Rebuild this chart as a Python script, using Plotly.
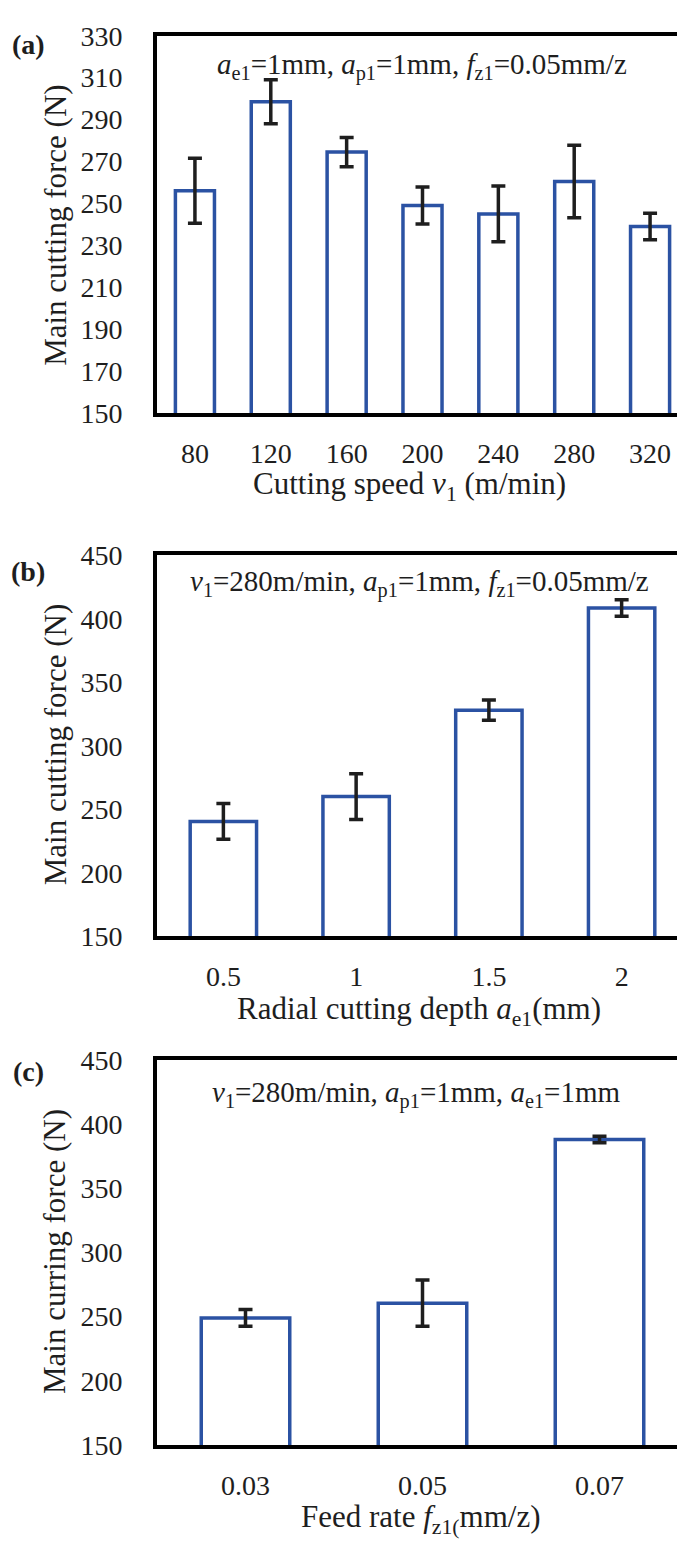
import plotly.graph_objects as go

W, H = 685, 1552

# ---- data ----
speed_labels = ["80", "120", "160", "200", "240", "280", "320"]
speed_force = [256, 298.5, 274.5, 249, 245, 260.5, 239]
speed_err = [15.5, 10.5, 7, 8.8, 13.3, 17.3, 6.3]

depth_labels = ["0.5", "1", "1.5", "2"]
depth_force = [240.5, 260, 328, 408.5]
depth_err = [14, 18, 8, 6.5]

feed_labels = ["0.03", "0.05", "0.07"]
feed_force = [249, 260.5, 388]
feed_err = [6.5, 18, 2.5]

BLUE = "#2B52A3"
INK = "#1e1e1e"
FONT = "Liberation Serif"
TICK = 28


def xp(px):
    return px / W


def yp(py):
    return 1 - py / H


panels = [
    dict(x=speed_labels, y=speed_force, e=speed_err, top=13, bot=398, rng=[150, 330], dt=20, w=0.515),
    dict(x=depth_labels, y=depth_force, e=depth_err, top=543, bot=932, rng=[150, 450], dt=50, w=0.5),
    dict(x=feed_labels, y=feed_force, e=feed_err, top=1058, bot=1451, rng=[150, 450], dt=50, w=0.5),
]

fig = go.Figure()
layout = dict(
    width=W, height=H, margin=dict(l=0, r=0, t=0, b=0),
    paper_bgcolor="white", plot_bgcolor="white", showlegend=False,
    font=dict(family=FONT, size=TICK, color=INK),
)
X0, X1 = 149, 680
for i, p in enumerate(panels, start=1):
    xa = "x" if i == 1 else f"x{i}"
    ya = "y" if i == 1 else f"y{i}"
    fig.add_trace(go.Bar(
        x=p["x"], y=p["y"], xaxis=xa, yaxis=ya, width=p["w"],
        marker=dict(color="white", line=dict(color=BLUE, width=3.5)),
        error_y=dict(type="data", array=p["e"], color=INK, thickness=3.5, width=7),
    ))
    key = "" if i == 1 else str(i)
    layout[f"xaxis{key}"] = dict(
        domain=[xp(X0), xp(X1)], anchor=ya, type="category",
        showline=True, linecolor="black", linewidth=4, mirror=True,
        showgrid=False, ticks="", ticklabelstandoff=12,
        tickfont=dict(family=FONT, size=TICK, color=INK),
    )
    layout[f"yaxis{key}"] = dict(
        domain=[yp(p["bot"]), yp(p["top"])], anchor=xa,
        range=p["rng"], dtick=p["dt"], tick0=150,
        showline=True, linecolor="black", linewidth=4, mirror=True,
        showgrid=False, ticks="", ticklabelstandoff=25, zeroline=False,
        tickfont=dict(family=FONT, size=TICK, color=INK),
    )

fig.update_layout(**layout)


def ann(text, x, y, size=29, bold=False, angle=0):
    if bold:
        text = f"<b>{text}</b>"
    fig.add_annotation(
        text=text, x=xp(x), y=yp(y), xref="paper", yref="paper",
        showarrow=False, xanchor="center", yanchor="middle", textangle=angle,
        font=dict(family=FONT, size=size, color=INK),
    )


# panel labels
ann("(a)", 20, 22, size=28, bold=True)
ann("(b)", 20, 560, size=28, bold=True)
ann("(c)", 20, 1070, size=28, bold=True)

# condition texts
ann("<i>a</i><sub>e1</sub>=1mm, <i>a</i><sub>p1</sub>=1mm, <i>f</i><sub>z1</sub>=0.05mm/z", 414, 44)
ann("<i>v</i><sub>1</sub>=280m/min, <i>a</i><sub>p1</sub>=1mm, <i>f</i><sub>z1</sub>=0.05mm/z", 411, 572)
ann("<i>v</i><sub>1</sub>=280m/min, <i>a</i><sub>p1</sub>=1mm, <i>a</i><sub>e1</sub>=1mm", 408, 1093)

# axis titles
ann("Cutting speed <i>v</i><sub>1</sub> (m/min)", 401, 472, size=31)
ann("Radial cutting depth <i>a</i><sub>e1</sub>(mm)", 411, 1008, size=31)
ann("Feed rate <i>f</i><sub>z1(</sub>mm/z)", 412, 1526, size=31)

ann("Main cutting force (N)", 48, 207, size=31, angle=-90)
ann("Main cutting force (N)", 47, 737, size=31, angle=-90)
ann("Main curring force (N)", 47, 1254, size=31, angle=-90)

fig.write_html("out.html")
